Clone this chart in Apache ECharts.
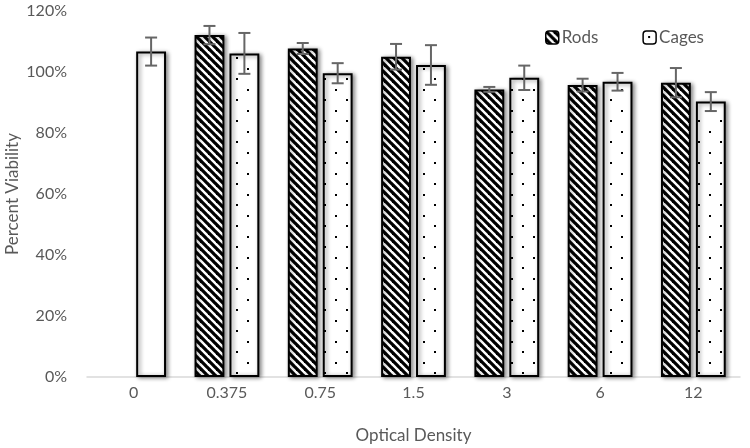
<!DOCTYPE html>
<html><head><meta charset="utf-8">
<script src="https://cdn.jsdelivr.net/npm/echarts@6/dist/echarts.min.js"></script>
<style>html,body{margin:0;padding:0;background:#fff}#c{width:750px;height:448px}</style>
</head><body><div id="c"></div>
<script>
var categories = ['0', '0.375', '0.75', '1.5', '3', '6', '12'];
var rods = [null, 112.1, 107.7, 105.0, 94.3, 95.7, 96.5];
var rodsErr = [null, 3.0, 1.8, 4.2, 0.8, 2.1, 4.8];
var cages = [106.7, 106.1, 99.6, 102.3, 98.1, 96.8, 90.3];
var cagesErr = [4.6, 6.7, 3.3, 6.5, 4.0, 2.9, 3.1];
var yTicks = [0, 20, 40, 60, 80, 100, 120];

function stripeTile() {
  var s = 8, c = document.createElement('canvas');
  c.width = s; c.height = s;
  var g = c.getContext('2d');
  g.fillStyle = '#fff'; g.fillRect(0, 0, s, s);
  g.strokeStyle = '#000'; g.lineWidth = s / (2 * Math.SQRT2) + 0.4;
  for (var k = -1; k <= 1; k++) {
    g.beginPath(); g.moveTo(k * s - s, -s); g.lineTo(k * s + 2 * s, 2 * s); g.stroke();
  }
  return c;
}
function dotTile() {
  var w = 22, h = 21, c = document.createElement('canvas');
  c.width = w; c.height = h;
  var g = c.getContext('2d');
  g.fillStyle = '#fff'; g.fillRect(0, 0, w, h);
  g.fillStyle = '#000';
  g.fillRect(5, 5, 2, 2);
  g.fillRect(16, 15, 2, 2);
  return c;
}
var stripePat = { image: stripeTile(), repeat: 'repeat' };
var dotPat = { image: dotTile(), repeat: 'repeat' };

var BW = 0.32, GAP = 0.17;
var baseStyle = {
  borderColor: '#000', borderWidth: 2,
  shadowColor: 'rgba(0,0,0,0.45)', shadowBlur: 4, shadowOffsetX: 2, shadowOffsetY: 1
};
function errSeries(vals, errs, side) {
  var data = [];
  for (var i = 0; i < vals.length; i++) {
    if (vals[i] != null) data.push([i, vals[i], errs[i]]);
  }
  return {
    type: 'custom', z: 10, silent: true,
    data: data,
    renderItem: function (params, api) {
      var i = api.value(0), v = api.value(1), e = api.value(2);
      var band = api.size([1, 0])[0];
      var bw = band * BW, off = side * (bw + bw * GAP) / 2;
      var top = api.coord([i, v + e]), bot = api.coord([i, v - e]);
      var x = top[0] + off, cap = 6;
      var st = { stroke: '#666666', lineWidth: 2 };
      return {
        type: 'group', children: [
          { type: 'line', shape: { x1: x, y1: top[1], x2: x, y2: bot[1] }, style: st },
          { type: 'line', shape: { x1: x - cap, y1: top[1], x2: x + cap, y2: top[1] }, style: st },
          { type: 'line', shape: { x1: x - cap, y1: bot[1], x2: x + cap, y2: bot[1] }, style: st }
        ]
      };
    }
  };
}

var cagesData = cages.map(function (v, i) {
  if (i === 0) return { value: v, itemStyle: { color: '#fff' } };
  return v;
});

var chart = echarts.init(document.getElementById('c'), null, { renderer: 'canvas' });
var font = 'Lato';
chart.setOption({
  animation: false,
  backgroundColor: '#fff',
  textStyle: { fontFamily: font },
  grid: { left: 87, right: 10, top: 11, bottom: 71, containLabel: false, outerBoundsMode: 'none' },
  legend: {
    data: ['Rods', 'Cages'],
    left: 540, top: 24,
    itemWidth: 13, itemHeight: 13, itemGap: 44,
    textStyle: { color: '#595959', fontSize: 17, fontFamily: font, padding: [0, 0, 0, -2] },
    itemStyle: { borderColor: '#000', borderWidth: 1.5, shadowBlur: 0, shadowOffsetX: 0, shadowOffsetY: 0 }
  },
  xAxis: {
    type: 'category', data: categories,
    name: 'Optical Density', nameLocation: 'middle', nameGap: 50, nameMoveOverlap: false,
    nameTextStyle: { color: '#595959', fontSize: 17, fontFamily: font },
    axisLine: { lineStyle: { color: '#d9d9d9', width: 1.5 } },
    axisTick: { show: false },
    axisLabel: { color: '#595959', fontSize: 16, margin: 8, fontFamily: font }
  },
  yAxis: {
    type: 'value', min: yTicks[0], max: yTicks[yTicks.length - 1], interval: 20,
    name: 'Percent Viability', nameLocation: 'middle', nameGap: 66, nameMoveOverlap: false,
    nameTextStyle: { color: '#595959', fontSize: 17, fontFamily: font },
    axisLine: { show: false }, axisTick: { show: false },
    splitLine: { show: false },
    axisLabel: { color: '#595959', fontSize: 16, margin: 20, fontFamily: font, formatter: '{value}%' }
  },
  series: [
    {
      name: 'Rods', type: 'bar', data: rods,
      barWidth: (BW * 100) + '%', barGap: (GAP * 100) + '%',
      itemStyle: Object.assign({ color: stripePat }, baseStyle)
    },
    {
      name: 'Cages', type: 'bar', data: cagesData,
      barWidth: (BW * 100) + '%', barGap: (GAP * 100) + '%',
      itemStyle: Object.assign({ color: dotPat }, baseStyle)
    },
    errSeries(rods, rodsErr, -1),
    errSeries(cages, cagesErr, 1)
  ]
});
</script></body></html>
